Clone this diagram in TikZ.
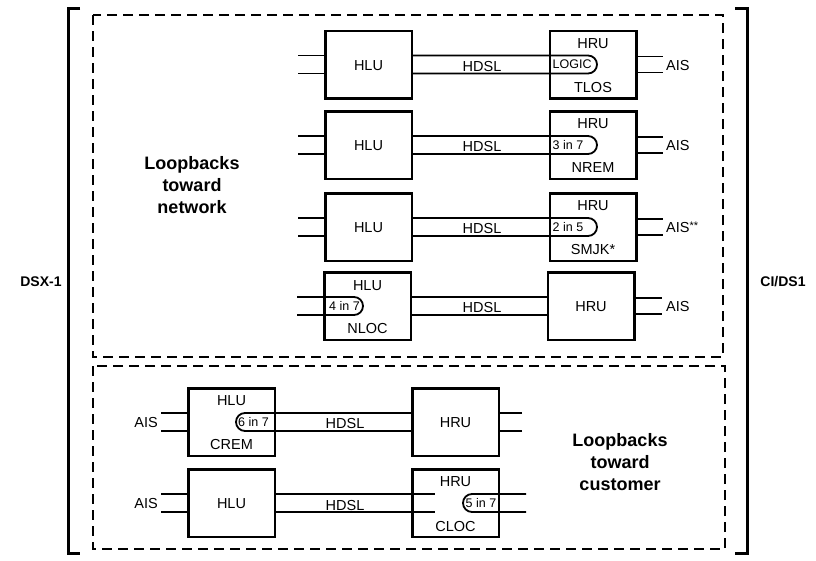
\documentclass[tikz,border=0pt]{standalone}
\usepackage{fontspec}
\setmainfont{Liberation Sans}
\begin{document}
\begin{tikzpicture}[x=1pt,y=-1pt,
  unit/.style={draw, line width=2.5pt, minimum width=86.5pt, minimum height=67.5pt, inner sep=0pt},
  wire/.style={line width=1.8pt},
  lbl/.style={font=\fontsize{14.5}{16}\selectfont, inner sep=0pt},
  code/.style={font=\fontsize{12.5}{13}\selectfont, inner sep=0pt},
  side/.style={font=\bfseries\fontsize{14}{16}\selectfont, inner sep=0pt},
  title/.style={font=\bfseries\fontsize{18}{22}\selectfont, align=center, inner sep=0pt},
  frame/.style={line width=1.7pt, dash pattern=on 10pt off 6pt},
  bracket/.style={line width=3pt}]
\useasboundingbox (0,0) rectangle (816,560);

% outer brackets and labels
\draw[bracket] (80,8) -- (68,8) -- (68,553) -- (80,553);
\draw[bracket] (735,8) -- (747,8) -- (747,553) -- (735,553);
\node[side] (dsx) at (41,282) {DSX-1};
\node[side] (cids) at (783,282) {CI/DS1};

% dashed frames
\draw[frame] (93,15) rectangle (723,357);
\draw[frame] (93,366) rectangle (725,549);

\node[title] (tnet) at (192,185) {Loopbacks\\toward\\network};
\node[title] (tcus) at (620,462) {Loopbacks\\toward\\customer};

% ---------- rows 1-3: loop in HRU ----------
\foreach \i/\y/\code/\bot/\ais in {1/64.5/LOGIC/TLOS/AIS, 2/145/3 in 7/NREM/AIS, 3/227/2 in 5/SMJK*/{AIS\raisebox{3pt}{\fontsize{11}{11}\selectfont **}}}{
  \node[unit] (h\i) at (368.5,\y) {};
  \node[lbl] (h\i t) at ([yshift=-1pt]h\i.center) {HLU};
  \node[unit] (r\i) at (593,\y) {};
  \node[lbl] (r\i t) at ([yshift=21pt]r\i.center) {HRU};
  \node[lbl] (r\i b) at ([yshift=-23pt]r\i.center) {\bot};
  \draw[wire] ([yshift=9pt]h\i.east) -- ([yshift=9pt]r\i.west) -- ++(39.5,0)
     arc[start angle=90,end angle=-90,radius=9pt] -- ([yshift=-9pt]r\i.west) -- ([yshift=-9pt]h\i.east);
  \node[code, anchor=west] (c\i) at ([xshift=4pt]r\i.west) {\code};
  \node[lbl] (d\i) at ([yshift=-2pt]482,\y) {HDSL};
  \coordinate (p\i a) at ([shift={(-26,-9)}]h\i.west);
  \coordinate (p\i b) at ([shift={(-26,9)}]h\i.west);
  \draw[wire] (p\i a) -- (p\i a -| h\i.west);
  \draw[wire] (p\i b) -- (p\i b -| h\i.west);
  \coordinate (q\i a) at ([shift={(25,-8)}]r\i.east);
  \coordinate (q\i b) at ([shift={(25,8)}]r\i.east);
  \draw[wire] (q\i a) -- (q\i a -| r\i.east);
  \draw[wire] (q\i b) -- (q\i b -| r\i.east);
  \node[lbl, anchor=base west] (a\i) at (666,\y+5.5) {\ais};
}

% ---------- row 4: loop in HLU (NLOC) ----------
\node[unit] (h4) at (367.5,306) {};
\node[lbl] (h4t) at ([yshift=20pt]h4.center) {HLU};
\node[lbl] (h4b) at ([yshift=-23pt]h4.center) {NLOC};
\node[unit] (r4) at (591,306) {};
\node[lbl] (r4t) at ([yshift=-1pt]r4.center) {HRU};
\coordinate (p4a) at ([shift={(-26,-9)}]h4.west);
\coordinate (p4b) at ([shift={(-26,9)}]h4.west);
\draw[wire] (p4a) -- ([yshift=9pt]h4.west) -- ++(31,0)
   arc[start angle=90,end angle=-90,radius=9pt] -- ([yshift=-9pt]h4.west) -- (p4b);
\node[code, anchor=west] (c4) at ([xshift=6pt]h4.west) {4 in 7};
\draw[wire] ([yshift=9pt]h4.east) -- ([yshift=9pt]r4.west);
\draw[wire] ([yshift=-9pt]h4.east) -- ([yshift=-9pt]r4.west);
\node[lbl] (d4) at (482,308) {HDSL};
\coordinate (q4a) at ([shift={(26,-8)}]r4.east);
\coordinate (q4b) at ([shift={(26,8)}]r4.east);
\draw[wire] (q4a) -- (q4a -| r4.east);
\draw[wire] (q4b) -- (q4b -| r4.east);
\node[lbl, anchor=base west] (a4) at (666,311.5) {AIS};

% ---------- row 5: loop in HLU (CREM) ----------
\node[unit] (h5) at (231.5,422) {};
\node[lbl] (h5t) at ([yshift=21pt]h5.center) {HLU};
\node[lbl] (h5b) at ([yshift=-23pt]h5.center) {CREM};
\node[unit] (r5) at (455.5,422) {};
\node[lbl] (r5t) at ([yshift=-1pt]r5.center) {HRU};
\draw[wire] ([yshift=9pt]r5.west) -- ([yshift=9pt]h5.east) -- ++(-31,0)
   arc[start angle=90,end angle=270,radius=9pt] -- ([yshift=-9pt]h5.east) -- ([yshift=-9pt]r5.west);
\node[code, anchor=east] (c5) at ([xshift=-7pt]h5.east) {6 in 7};
\node[lbl] (d5) at (345,424) {HDSL};
\coordinate (p5a) at ([shift={(-26,-9)}]h5.west);
\coordinate (p5b) at ([shift={(-26,9)}]h5.west);
\draw[wire] (p5a) -- (p5a -| h5.west);
\draw[wire] (p5b) -- (p5b -| h5.west);
\node[lbl, anchor=base east] (a5) at (158,427.5) {AIS};
\coordinate (q5a) at ([shift={(22,-9)}]r5.east);
\coordinate (q5b) at ([shift={(22,9)}]r5.east);
\draw[wire] (q5a) -- (q5a -| r5.east);
\draw[wire] (q5b) -- (q5b -| r5.east);

% ---------- row 6: loop in HRU (CLOC) ----------
\node[unit] (h6) at (231.5,503) {};
\node[lbl] (h6t) at ([yshift=-1pt]h6.center) {HLU};
\node[unit] (r6) at (455.5,503) {};
\node[lbl] (r6t) at ([yshift=21pt]r6.center) {HRU};
\node[lbl] (r6b) at ([yshift=-23pt]r6.center) {CLOC};
\coordinate (e6a) at ([shift={(24,-9)}]r6.west);
\coordinate (e6b) at ([shift={(24,9)}]r6.west);
\draw[wire] ([yshift=9pt]h6.east) -- (e6a);
\draw[wire] ([yshift=-9pt]h6.east) -- (e6b);
\node[lbl] (d6) at (345,505) {HDSL};
\coordinate (q6a) at ([shift={(26,-9)}]r6.east);
\coordinate (q6b) at ([shift={(26,9)}]r6.east);
\draw[wire] (q6a) -- ([yshift=9pt]r6.east) -- ++(-28,0)
   arc[start angle=90,end angle=270,radius=9pt] -- ([yshift=-9pt]r6.east) -- (q6b);
\node[code, anchor=east] (c6) at ([xshift=-3.5pt]r6.east) {5 in 7};
\coordinate (p6a) at ([shift={(-26,-9)}]h6.west);
\coordinate (p6b) at ([shift={(-26,9)}]h6.west);
\draw[wire] (p6a) -- (p6a -| h6.west);
\draw[wire] (p6b) -- (p6b -| h6.west);
\node[lbl, anchor=base east] (a6) at (158,508.5) {AIS};
\end{tikzpicture}
\end{document}
